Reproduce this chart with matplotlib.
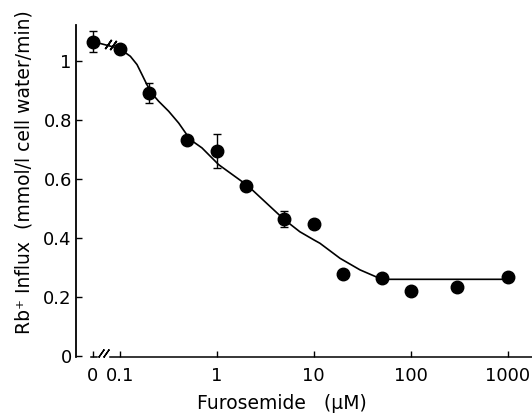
import numpy as np
import matplotlib
matplotlib.use('Agg')
import matplotlib.pyplot as plt

plt.rcParams['font.family'] = ['DejaVu Sans']

# measured points (furosemide in uM, Rb+ influx)
conc = [0, 0.1, 0.2, 0.5, 1, 2, 5, 10, 20, 50, 100, 300, 1000]
influx = [1.066, 1.042, 0.891, 0.732, 0.695, 0.578, 0.465, 0.447, 0.279,
          0.267, 0.223, 0.234, 0.270]
sem = [0.034, 0, 0.034, 0, 0.057, 0, 0.028, 0, 0, 0, 0, 0, 0]

# fitted curve
curve_x = [0.1, 0.129, 0.151, 0.170, 0.191, 0.214, 0.252, 0.320, 0.406,
           0.534, 0.705, 0.894, 1.05, 2.09, 4.9, 7.2, 10.1, 11.6, 18.7, 30,
           45, 50, 1000]
curve_y = [1.042, 1.016, 0.988, 0.954, 0.920, 0.891, 0.864, 0.830, 0.790,
           0.734, 0.706, 0.672, 0.649, 0.578, 0.465, 0.422, 0.394, 0.383,
           0.332, 0.293, 0.268, 0.261, 0.261]

x_ticks = [0, 0.1, 1, 10, 100, 1000]
x_labels = ['0', '0.1', '1', '10', '100', '1000']
y_ticks = [0, 0.2, 0.4, 0.6, 0.8, 1.0]
y_labels = ['0', '0.2', '0.4', '0.6', '0.8', '1']

# log axis with the zero dose squeezed in on the left (broken axis)
ZERO = -1.275
GAP = 0.275


def fwd(x):
    x = np.asarray(x, dtype=float)
    lg = np.log10(np.maximum(x, 0.1))
    return np.where(x >= 0.1, lg, ZERO + x * GAP / 0.1)


def inv(u):
    u = np.asarray(u, dtype=float)
    return np.where(u >= -1, 10 ** np.minimum(u, 10), (u - ZERO) * 0.1 / GAP)


fig = plt.figure(figsize=(5.32, 4.19), dpi=100)
ax = fig.add_axes([76 / 532, 1 - 357 / 419, 456 / 532, 332 / 419])
ax.set_xscale('function', functions=(fwd, inv))
ax.set_xlim(-0.0636, 1778)
ax.set_ylim(-0.002, 1.122)

for s in ['top', 'right']:
    ax.spines[s].set_visible(False)
ax.spines['bottom'].set_bounds(0.064, 1778)
ax.spines['left'].set_linewidth(1.3)
ax.spines['bottom'].set_linewidth(1.1)

# small piece of x axis at zero and the break marks
xt = ax.get_xaxis_transform()
ax.plot([-0.008, 0.015], [0, 0], color='black', lw=1.1,
        transform=xt, clip_on=False)
ax.plot([0.029, 0.048], [0.012, 0.012], ls='none', marker=(2, 2, -35),
        ms=7, mew=1.0, color='black', transform=xt, clip_on=False)

ax.set_xticks(x_ticks)
ax.set_xticklabels(x_labels)
ax.set_yticks(y_ticks)
ax.set_yticklabels(y_labels)
ax.minorticks_off()
ax.tick_params(direction='in', length=4, width=1, labelsize=13)
ax.tick_params(axis='x', pad=7)
ax.tick_params(axis='y', pad=3)

# curve, plus the bridge from zero dose to 0.1 with break marks
ax.plot(curve_x, curve_y, color='black', lw=1.2, zorder=2)
ax.plot(conc[:2], influx[:2], color='black', lw=1.2, zorder=2)
ax.plot([0.058, 0.075], [1.056, 1.053], ls='none', marker=(2, 2, -35),
        ms=8, mew=1.2, color='black', zorder=3)

ax.plot(conc, influx, 'o', color='black', ms=9, zorder=4)
sel = [i for i in range(len(sem)) if sem[i] > 0]
ax.errorbar([conc[i] for i in sel], [influx[i] for i in sel],
            yerr=[sem[i] for i in sel], fmt='none', ecolor='black',
            elinewidth=1, capsize=3, capthick=1, zorder=3)

fig.text(282 / 532, 1 - 403 / 419, 'Furosemide   (\u00b5M)', fontsize=13.5,
         ha='center', va='center')
fig.text(24 / 532, 1 - 172 / 419,
         'Rb\u207a Influx  (mmol/l cell water/min)', fontsize=13.5,
         rotation=90, ha='center', va='center')

fig.savefig('out.png', dpi=100)
